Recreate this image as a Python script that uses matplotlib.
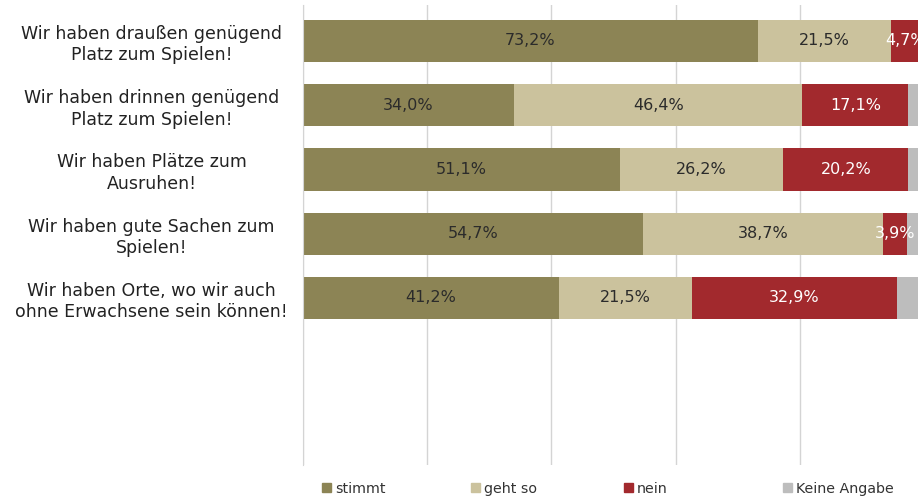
import matplotlib
matplotlib.use('agg')
import matplotlib.pyplot as plt
from matplotlib.patches import Patch
import numpy as np

statements = ['Wir haben draußen genügend\nPlatz zum Spielen!',
              'Wir haben drinnen genügend\nPlatz zum Spielen!',
              'Wir haben Plätze zum\nAusruhen!',
              'Wir haben gute Sachen zum\nSpielen!',
              'Wir haben Orte, wo wir auch\nohne Erwachsene sein können!']

stimmt = [73.2, 34.0, 51.1, 54.7, 41.2]
geht_so = [21.5, 46.4, 26.2, 38.7, 21.5]
nein = [4.7, 17.1, 20.2, 3.9, 32.9]
keine_angabe = [0.6, 2.5, 2.5, 2.7, 4.4]

series_names = ['stimmt', 'geht so', 'nein', 'Keine Angabe']
series_colors = ['#8c8455', '#cbc29d', '#a2292d', '#bdbdbd']
label_colors = ['#2b2b2b', '#2b2b2b', 'white', None]

fig = plt.figure(figsize=(9.18, 4.99), dpi=100)
# plot area runs past the right edge of the figure
ax = fig.add_axes([303 / 918, 34 / 499, 621 / 918, 460 / 499])

y = np.arange(len(statements))
series = [stimmt, geht_so, nein, keine_angabe]
left = np.zeros(len(statements))
for vals, name, col, tcol in zip(series, series_names, series_colors, label_colors):
    vals = np.array(vals)
    ax.barh(y, vals, left=left, height=0.66, color=col, label=name, zorder=2)
    if tcol is not None:
        for yi, (l, v) in enumerate(zip(left, vals)):
            ax.text(l + v / 2, yi, ('%.1f%%' % v).replace('.', ','),
                    ha='center', va='center', color=tcol, fontsize=11.5, zorder=3,
                    clip_on=False)
    left += vals

ax.set_xlim(0, 100)
ax.set_ylim(6.6, -0.56)
ax.set_xticks([0, 20, 40, 60, 80, 100])
ax.xaxis.grid(True, color='#d4d4d4', linewidth=1, zorder=0)
ax.tick_params(axis='x', length=0, labelbottom=False)
ax.tick_params(axis='y', length=0)
ax.set_yticks(y)
ax.set_yticklabels(statements, fontsize=12.5, color='#222222', ha='center',
                   linespacing=1.25)
for lbl in ax.get_yticklabels():
    lbl.set_x(-0.236)
    lbl.set_multialignment('center')

for spine in ['top', 'right', 'bottom']:
    ax.spines[spine].set_visible(False)
ax.spines['left'].set_color('#d4d4d4')

# one legend entry per slot, evenly spaced along the bottom
legend_x = [322, 471, 624, 783]
for name, col, lx in zip(series_names, series_colors, legend_x):
    leg = fig.legend(handles=[Patch(color=col, label=name)], loc='center left',
                     bbox_to_anchor=(lx / 918, 1 - 489 / 499), frameon=False,
                     fontsize=10.3, handlelength=0.6, handleheight=0.6,
                     handletextpad=0.3, borderpad=0, borderaxespad=0)
    for t in leg.get_texts():
        t.set_color('#333333')

fig.savefig('out.png', dpi=100)
